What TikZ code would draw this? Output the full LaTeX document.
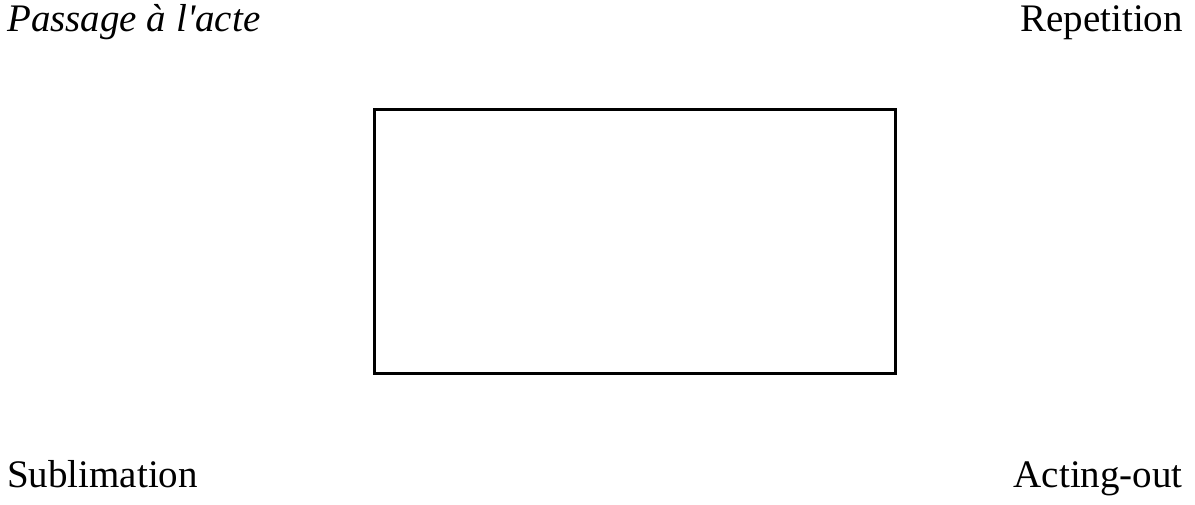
\documentclass[tikz,border=0pt]{standalone}
\usepackage{fontspec}
\setmainfont{Liberation Serif}[Ligatures=TeXOff]
\begin{document}
\begin{tikzpicture}[x=1pt,y=-1pt,
  lab/.style={inner sep=0pt,font=\fontsize{39}{44}\selectfont},
  box/.style={draw,line width=3pt}]
\useasboundingbox (0,0) rectangle (1195,505);
\node[box,minimum width=521pt,minimum height=263pt,anchor=north west,inner sep=0pt,outer sep=0pt] (frame) at (374,110) {};
\node[lab,anchor=base west] (pa) at (7,32) {\itshape Passage à l'acte};
\node[lab,anchor=base east] (rep) at (1183,32) {Repetition};
\node[lab,anchor=base west] (sub) at (7,487) {Sublimation};
\node[lab,anchor=base east] (act) at (1183,487) {Acting-out};
\end{tikzpicture}
\end{document}
